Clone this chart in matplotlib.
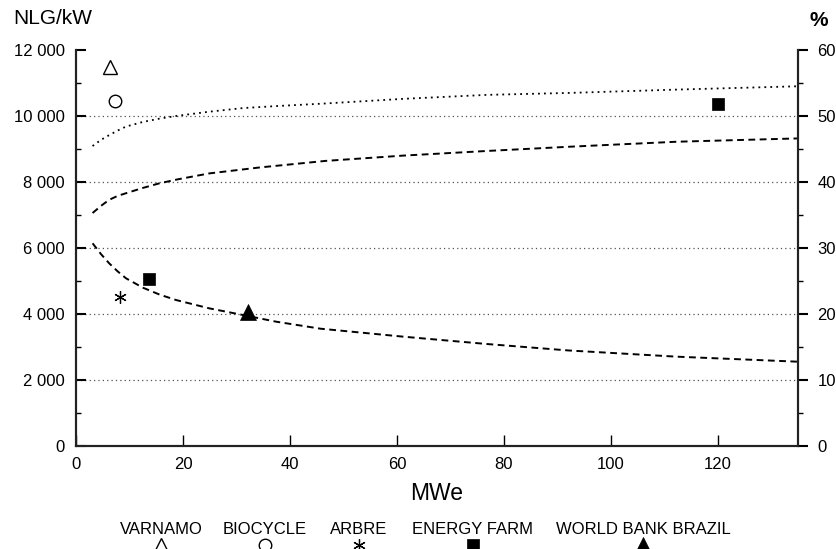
import matplotlib
matplotlib.use('Agg')
import matplotlib.pyplot as plt
from matplotlib.lines import Line2D
from matplotlib.ticker import FuncFormatter, MultipleLocator

plt.rcParams['font.family'] = ['Liberation Sans', 'DejaVu Sans']

# curves
eff_hi_x = [3.1, 4.7, 6.2, 7.8, 9.35, 12.5, 15.6, 18.7, 24.9, 31.2, 37.4, 46.7, 61.2, 76.8, 92.4, 112.3, 134.8]
eff_hi_pct = [45.45, 46.4, 47.1, 47.8, 48.4, 49.1, 49.6, 50.0, 50.65, 51.2, 51.5, 51.9, 52.6, 53.2, 53.5, 54.0, 54.5]

eff_lo_x = [3.1, 4.7, 6.2, 7.8, 9.35, 12.5, 15.6, 19.0, 24.9, 34.3, 46.7, 61.2, 76.8, 92.4, 112.3, 134.8]
eff_lo_pct = [35.3, 36.4, 37.3, 37.9, 38.3, 39.1, 39.8, 40.4, 41.3, 42.2, 43.2, 44.0, 44.7, 45.35, 46.1, 46.6]

cost_x = [3.1, 4.7, 6.2, 7.8, 9.35, 12.5, 15.6, 18.7, 24.9, 31.2, 37.4, 45.7, 61.2, 76.8, 92.1, 112.3, 134.8]
cost_nlg = [6142, 5810, 5536, 5290, 5082, 4798, 4590, 4424, 4172, 3970, 3768, 3555, 3313, 3091, 2895, 2707, 2556]

# projects
proj_names = ['VARNAMO', 'BIOCYCLE', 'ARBRE', 'ENERGY FARM', 'WORLD BANK BRAZIL']
proj_x = [[6.4], [7.3], [8.3], [13.6, 120.0], [32.2]]
proj_y = [[11500], [10450], [4520], [5050, 10370], [4050]]
proj_style = [
    dict(marker='^', ms=10, mfc='white', mec='black', mew=1.0),
    dict(marker='o', ms=9, mfc='white', mec='black', mew=1.0),
    dict(marker=(6, 2, 0), ms=9, mfc='black', mec='black', mew=0.9),
    dict(marker='s', ms=8.5, mfc='black', mec='black', mew=0.5),
    dict(marker='^', ms=11, mfc='black', mec='black', mew=0.5),
]
legend_cx = [161, 265, 359, 473, 643]

fig = plt.figure(figsize=(8.37, 5.49), dpi=100)
ax = fig.add_axes([76 / 837, 103 / 549, 722 / 837, 396 / 549])
ax2 = ax.twinx()

ax.set_xlim(0, 135)
ax.set_ylim(0, 12000)
ax2.set_ylim(0, 60)

for y in [2000, 4000, 6000, 8000, 10000]:
    ax.axhline(y, color='#555555', lw=0.9, linestyle=(0, (1, 2.5)), zorder=1)

ax2.plot(eff_hi_x, eff_hi_pct, color='black', lw=1.3, linestyle=(0, (1, 2.3)))
ax2.plot(eff_lo_x, eff_lo_pct, color='black', lw=1.4, linestyle=(0, (3.5, 2.3)))
ax.plot(cost_x, cost_nlg, color='black', lw=1.4, linestyle=(0, (3.5, 2.3)))

for xs, ys, st in zip(proj_x, proj_y, proj_style):
    ax.plot(xs, ys, linestyle='none', zorder=5, **st)

for a in (ax, ax2):
    a.spines['top'].set_visible(False)
    for s in ('left', 'right', 'bottom'):
        a.spines[s].set_linewidth(1.5)
        a.spines[s].set_color('#222222')

ax.xaxis.set_major_locator(MultipleLocator(20))
ax.yaxis.set_major_locator(MultipleLocator(2000))
ax.yaxis.set_minor_locator(MultipleLocator(1000))
ax.yaxis.set_major_formatter(FuncFormatter(lambda v, p: '{:,}'.format(int(v)).replace(',', ' ')))
ax.tick_params(axis='x', direction='in', length=8, width=1.0, pad=8, labelsize=12)
ax.tick_params(axis='y', which='major', direction='in', length=7, width=1.5, pad=8, labelsize=12)
ax.tick_params(axis='y', which='minor', direction='in', length=3.5, width=1.0)

ax2.yaxis.set_major_locator(MultipleLocator(10))
ax2.yaxis.set_minor_locator(MultipleLocator(5))
ax2.tick_params(axis='y', which='major', direction='out', length=7, width=1.5, pad=7, labelsize=12)
ax2.tick_params(axis='y', which='minor', direction='out', length=3.5, width=1.0)

fig.text(13 / 837, 1 - 18 / 549, 'NLG/kW', fontsize=15, ha='left', va='center')
fig.text(828 / 837, 1 - 20 / 549, '%', fontsize=15, fontweight='bold', ha='right', va='center')
fig.text(437 / 837, 1 - 493 / 549, 'MWe', fontsize=16.5, ha='center', va='center')

for name, cx, st in zip(proj_names, legend_cx, proj_style):
    fig.text(cx / 837, 1 - 529 / 549, name, fontsize=12, ha='center', va='center')
    fig.add_artist(Line2D([cx / 837], [1 - 545 / 549], transform=fig.transFigure,
                          linestyle='none', **st))

fig.savefig('out.png', dpi=100)
